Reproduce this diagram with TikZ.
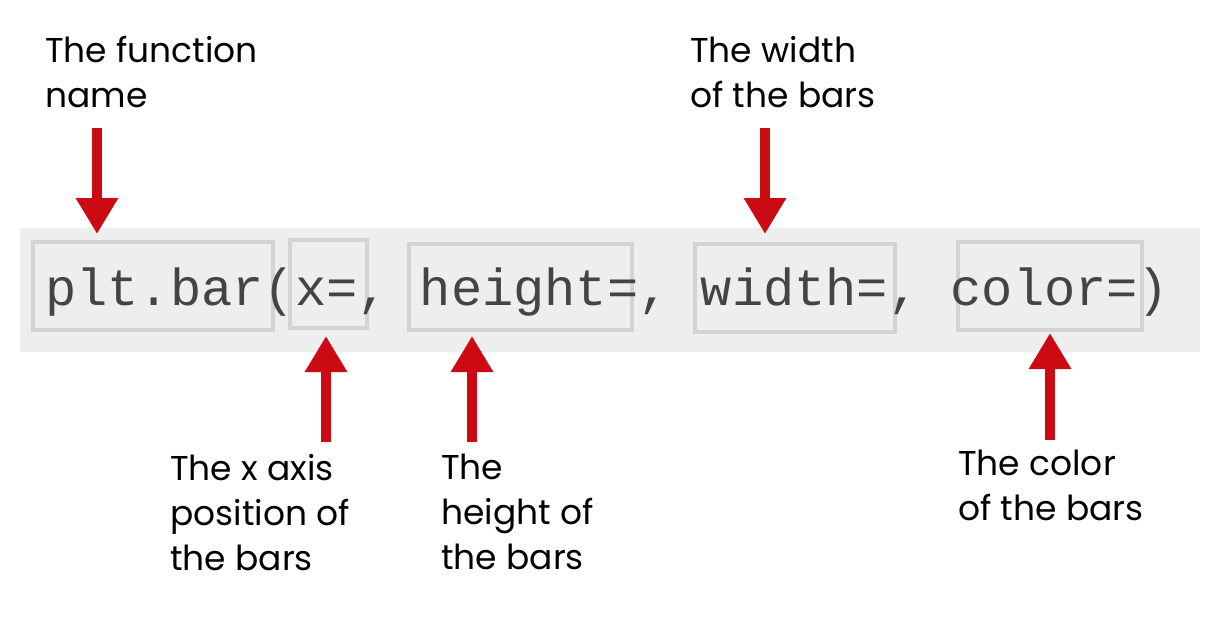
\documentclass[tikz,border=0pt]{standalone}
\usepackage{fontspec}
\setmainfont{Poppins}
\newfontfamily\codefont{Liberation Mono}
\usetikzlibrary{arrows.meta}
\definecolor{band}{HTML}{EEEEEE}
\definecolor{boxc}{HTML}{D3D3D3}
\definecolor{arr}{HTML}{CC0A14}
\definecolor{codec}{HTML}{444444}
\begin{document}
\begin{tikzpicture}[x=0.025cm,y=-0.025cm,
  lab/.style={anchor=north west,align=left,font=\fontsize{24.5}{32}\selectfont,inner sep=0pt,text=black},
  pbox/.style={draw=boxc,line width=3.2pt},
  redarrow/.style={draw=arr,line width=7.1pt,-{Triangle[width=28.5pt,length=25.6pt]}}]
\useasboundingbox (0,0) rectangle (1220,620);
\fill[band] (20,228) rectangle (1200,352);
\draw[pbox] (33,242) rectangle (273,330);
\draw[pbox] (290,240) rectangle (367,328);
\draw[pbox] (409,244) rectangle (632,330);
\draw[pbox] (695,244) rectangle (895,332);
\draw[pbox] (958,242) rectangle (1142,330);
\node[anchor=base west,inner sep=0pt,text=codec,font=\codefont\fontsize{37}{40}\selectfont] (code) at (45,305) {plt.bar(x=, height=, width=, color=)};
\node[lab] (l1) at (45,36) {The function\\name};
\node[lab] (l2) at (690,36) {The width\\of the bars};
\node[lab] (l3) at (170,454) {The x axis\\position of\\the bars};
\node[lab] (l4) at (441,454) {The\\height of\\the bars};
\node[lab] (l5) at (958,450) {The color\\of the bars};
\coordinate (a1s) at (97,128); \coordinate (a1e) at (97,234);
\coordinate (a2s) at (765,128); \coordinate (a2e) at (765,234);
\coordinate (a3s) at (326,442); \coordinate (a3e) at (326,336);
\coordinate (a4s) at (472,442); \coordinate (a4e) at (472,336);
\coordinate (a5s) at (1050,440); \coordinate (a5e) at (1050,333);
\draw[redarrow] (a1s) -- (a1e);
\draw[redarrow] (a2s) -- (a2e);
\draw[redarrow] (a3s) -- (a3e);
\draw[redarrow] (a4s) -- (a4e);
\draw[redarrow] (a5s) -- (a5e);
\end{tikzpicture}
\end{document}
